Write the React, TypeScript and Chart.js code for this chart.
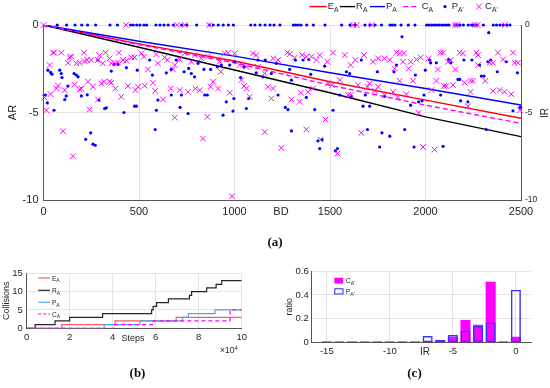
import React, { useEffect, useRef } from 'react';
import { Chart, registerables } from 'chart.js';

Chart.register(...registerables);

// ---------- (a) data ----------
const BD_LINE = [0, 500, 1000, 1500, 2000, 2500];
const E_A = [0, -1.08, -2.06, -3.24, -4.29, -5.33];
const R_A = [0, -1.27, -2.57, -3.87, -5.25, -6.38];
const P_A = [0, -0.93, -1.78, -2.73, -3.63, -4.57];
const C_A = [0, -1.12, -2.16, -3.44, -4.58, -5.62];

const P_A_PRIME: [number, number][] = [
  [72, 0], [121, 0], [165, 0], [200, 0], [231, 0], [273, 0], [348, 0], [387, 0], [456, 0], [470, 0], [488, 0], [505, 0],
  [526, 0], [540, 0], [589, 0], [610, 0], [631, 0], [653, 0], [680, 0], [723, 0], [750, 0], [802, 0], [868, 0], [889, 0],
  [915, 0], [941, 0], [968, 0], [994, 0], [1085, 0], [1107, 0], [1134, 0], [1160, 0], [1186, 0], [1207, 0], [1238, 0],
  [1308, 0], [1320, 0], [1334, 0], [1348, 0], [1378, 0], [1413, 0], [1474, 0], [1561, 0], [1605, 0], [1631, 0], [1683, 0],
  [1709, 0], [1736, 0], [1770, 0], [1814, 0], [1826, 0], [1840, 0], [1872, 0], [1910, 0], [1945, 0], [2006, 0], [2018, 0],
  [2032, 0], [2046, 0], [2058, 0], [2071, 0], [2085, 0], [2099, 0], [2111, 0], [2123, 0], [2154, 0], [2168, 0], [2180, 0],
  [2198, 0], [2224, 0], [2242, 0], [2256, 0], [2268, 0], [2303, 0], [2355, 0], [2372, 0], [2390, 0], [2407, 0], [2425, 0], [2442, 0],
  [285, -2.0], [369, -2.25], [390, -2.25], [434, -2.44], [491, -2.58], [556, -2.0], [23, -2.58], [37, -2.71], [44, -2.81],
  [85, -2.58], [93, -2.77], [160, -2.77], [172, -2.86], [181, -2.96], [97, -3.0], [355, -2.63], [570, -2.86], [128, -3.49],
  [198, -4.05], [229, -3.99], [119, -4.05], [111, -4.26], [10, -4.0], [20, -4.45], [55, -4.87], [290, -4.29], [329, -4.73],
  [320, -4.77], [421, -5.0], [477, -4.64], [486, -4.64], [591, -4.87], [599, -4.29], [585, -5.97], [247, -6.16], [221, -6.53],
  [259, -6.81], [271, -6.87],
  [643, -2.73], [669, -2.54], [695, -2.0], [736, -2.67], [760, -2.48], [774, -2.77], [791, -2.96], [809, -2.19], [840, -2.54],
  [875, -2.54], [910, -2.39], [931, -2.29], [975, -2.29], [1001, -2.1], [1050, -2.39], [1123, -2.0], [1161, -2.0], [1219, -2.19],
  [1032, -3.0], [1193, -2.77], [1114, -2.73], [1149, -2.96], [669, -4.0], [722, -4.0], [844, -4.0], [858, -4.0], [957, -4.39],
  [997, -4.2], [1074, -4.2], [1062, -4.77], [992, -4.92], [940, -5.15], [757, -5.06], [715, -4.71], [1228, -4.0],
  [1319, -2.0], [1359, -2.0], [1389, -1.97], [1472, -2.35], [1586, -2.67], [1603, -2.77], [1664, -2.0], [1748, -2.67],
  [1835, -2.67], [1848, -2.29], [1877, -0.67], [1289, -2.54], [1399, -2.82], [1298, -3.15], [1376, -4.14], [1551, -4.0],
  [1612, -4.07], [1685, -4.0], [1786, -4.07], [1266, -4.71], [1280, -4.83], [1420, -4.83], [1516, -4.87], [1673, -4.64],
  [1708, -4.64], [1298, -6.05], [1696, -5.97], [1772, -6.16], [1813, -6.35], [1760, -6.97], [1437, -6.62], [1458, -6.55],
  [1446, -7.06], [1528, -7.19], [1539, -7.06],
  [2331, -0.44], [2022, -2.0], [2027, -2.16], [2057, -2.16], [2121, -1.97], [2132, -2.16], [2201, -2.0], [2243, -2.0],
  [2283, -2.29], [2327, -2.1], [2341, -2.0], [2376, -2.67], [2423, -2.1], [2481, -2.73], [1999, -2.58], [1947, -2.86],
  [2170, -3.11], [2179, -3.11], [2292, -2.92], [2306, -2.92], [1922, -4.58], [1964, -4.39], [1982, -4.33], [1992, -4.0],
  [2079, -4.0], [2184, -4.33], [2222, -4.39], [2458, -4.9], [2495, -4.71], [1891, -5.97], [2318, -5.97], [1940, -6.97], [2092, -6.93],
];

const C_A_PRIME: [number, number][] = [
  [0, 0], [432, 0], [700, 0], [740, 0], [868, 0], [1622, 0], [1640, 0], [1718, 0], [2154, 0], [2168, 0], [2259, 0], [2273, 0], [2416, 0],
  [50, -1.58], [55, -1.58], [93, -1.58], [137, -1.85], [146, -1.81], [212, -1.58], [294, -1.74], [325, -1.58], [346, -1.91],
  [395, -1.58], [512, -1.62], [526, -1.81], [477, -1.85], [460, -1.85], [416, -2.0], [434, -2.04], [390, -2.14], [376, -2.19],
  [355, -2.19], [311, -2.19], [285, -2.0], [250, -2.0], [229, -2.0], [215, -2.06], [189, -2.16], [172, -2.19], [128, -2.16],
  [32, -2.29], [547, -2.54], [599, -2.19], [590, -1.68], [5, -4.14], [37, -3.95], [67, -3.63], [76, -3.47], [111, -3.72],
  [163, -3.4], [189, -3.68], [198, -3.63], [233, -3.24], [259, -3.53], [303, -3.34], [317, -3.24], [346, -3.24], [355, -3.3],
  [376, -3.63], [442, -3.49], [481, -3.72], [495, -3.53], [530, -3.47], [573, -3.3], [585, -3.76], [285, -4.26], [407, -4.1],
  [242, -4.83], [15, -4.87], [102, -6.07], [154, -7.5],
  [634, -1.85], [648, -2.0], [678, -2.54], [687, -2.29], [713, -1.97], [739, -1.62], [774, -2.1], [791, -1.72], [826, -1.91],
  [861, -1.81], [922, -2.1], [928, -2.67], [949, -1.62], [966, -1.58], [1001, -1.62], [1027, -2.29], [1062, -2.39], [1097, -1.62],
  [1114, -1.72], [1123, -2.39], [1158, -2.77], [1202, -1.91], [1228, -2.0], [666, -3.63], [713, -3.72], [757, -3.82], [795, -3.63],
  [818, -3.72], [875, -3.53], [888, -3.24], [914, -3.63], [975, -3.87], [1036, -3.15], [1050, -3.49], [1062, -3.63], [1079, -4.1],
  [1175, -3.53], [1202, -3.63], [1193, -4.2], [626, -4.26], [687, -5.29], [858, -5.25], [835, -6.49], [1158, -6.11], [1245, -7.02],
  [987, -9.79],
  [1277, -1.58], [1289, -1.66], [1315, -1.87], [1354, -1.72], [1376, -1.81], [1403, -1.81], [1429, -2.0], [1446, -1.72],
  [1486, -2.1], [1516, -1.58], [1577, -1.72], [1608, -2.29], [1633, -2.0], [1678, -1.72], [1725, -2.1], [1752, -1.91],
  [1786, -1.91], [1813, -2.0], [1839, -2.48], [1848, -1.58], [1865, -1.62], [1298, -4.26], [1341, -4.39], [1347, -3.87],
  [1385, -3.82], [1411, -3.63], [1490, -3.34], [1511, -3.44], [1551, -3.15], [1595, -4.0], [1608, -4.0], [1647, -3.44],
  [1696, -3.53], [1708, -3.34], [1734, -3.76], [1752, -3.53], [1786, -4.0], [1830, -3.82], [1856, -4.14], [1865, -3.19],
  [1476, -5.4], [1376, -5.97], [1451, -6.55], [1539, -7.35], [1664, -6.16],
  [1887, -1.62], [1882, -2.1], [1922, -2.1], [1952, -1.97], [1975, -1.85], [1912, -2.48], [2017, -1.91], [2065, -2.54],
  [2079, -1.58], [2092, -1.58], [2118, -2.1], [2132, -2.0], [2156, -2.54], [2179, -1.58], [2196, -1.62], [2266, -1.58],
  [2275, -1.72], [2275, -2.29], [2336, -2.16], [2353, -2.16], [2379, -1.58], [2406, -1.97], [2458, -1.58], [2467, -2.16],
  [2484, -2.16], [1934, -3.19], [2057, -3.19], [2097, -3.49], [2109, -3.49], [2144, -3.44], [2205, -3.3], [2236, -3.19],
  [2249, -3.19], [2313, -3.19], [2031, -3.72], [2236, -3.82], [2353, -3.78], [2388, -3.72], [2414, -3.82], [2449, -3.95],
  [1900, -3.95], [2222, -4.64], [1964, -5.02], [2495, -4.87], [1987, -6.97], [2048, -7.12],
];

// ---------- (b) data: steps (x10^4) where the collision count changes ----------
const E_A_STEPS: [number, number][] = [[0, 0], [1.63, 1], [4.11, 2], [6.95, 3], [10, 3]];
const R_A_STEPS: [number, number][] = [[0, 0], [0.39, 1], [1.32, 2], [2.0, 3], [3.53, 4], [5.81, 5], [5.88, 6], [6.04, 7],
  [6.59, 8], [7.57, 9], [7.67, 10], [8.37, 11], [8.81, 12], [9.07, 13], [10, 13]];
const P_A_STEPS: [number, number][] = [[0, 0], [3.6, 1], [5.27, 2], [7.26, 3], [7.52, 4], [8.76, 5], [10, 5]];
const C_A_STEPS: [number, number][] = [[0, 0], [4.06, 1], [5.89, 2], [9.46, 5], [10, 5]];

// ---------- (c) data ----------
const IR_BINS = [-15, -14, -13, -12, -11, -10, -9, -8, -7, -6, -5, -4, -3, -2, -1, 0];
const C_RATIO = [0, 0, 0, 0, 0, 0, 0, 0.003, 0.015, 0.022, 0.05, 0.19, 0.15, 0.51, 0, 0.05];
const P_RATIO = [0, 0, 0, 0, 0, 0, 0, 0.002, 0.056, 0.025, 0.064, 0.1, 0.142, 0.17, 0, 0.444];
const IR_TICKS = [-15, -10, -5, 0];

const SANS = '"Liberation Sans", Arial, Helvetica, sans-serif';
const SERIF = '"Liberation Serif", "DejaVu Serif", serif';
const GRID = '#e4e4e4';
const AXIS = '#555';
const TXT = '#262626';

const toPts = (arr: [number, number][]) => arr.map(([x, y]) => ({ x, y }));

export default function App() {
  const aRef = useRef<HTMLCanvasElement>(null);
  const bRef = useRef<HTMLCanvasElement>(null);
  const cRef = useRef<HTMLCanvasElement>(null);

  useEffect(() => {
    const lineDs = (label: string, ys: number[], color: string, order: number, dash?: number[]) => ({
      type: 'scatter', label, data: BD_LINE.map((x, i) => ({ x, y: ys[i] })), showLine: true,
      borderColor: color, backgroundColor: color, borderWidth: 1.4, pointRadius: 0, order,
      borderDash: dash || [],
    });
    const chartA = new Chart(aRef.current!, {
      type: 'scatter',
      data: {
        datasets: [
          lineDs('E_A', E_A, '#ff0000', 6),
          lineDs('R_A', R_A, '#000000', 5),
          lineDs('P_A', P_A, '#0000ff', 4),
          lineDs('C_A', C_A, '#ff00ff', 3, [5, 3]),
          { label: "P_A'", data: toPts(P_A_PRIME), pointStyle: 'circle', pointRadius: 1.6, backgroundColor: '#0000ff',
            borderWidth: 0, order: 2, clip: false },
          { label: "C_A'", data: toPts(C_A_PRIME), pointStyle: 'crossRot', pointRadius: 4, borderColor: '#ff00ff',
            backgroundColor: '#ff00ff', borderWidth: 1, order: 1, clip: false },
        ] as any,
      },
      options: {
        responsive: false, animation: false,
        layout: { padding: { top: 25, left: 0, right: 0, bottom: 0 } },
        plugins: { legend: { display: false }, tooltip: { enabled: false } },
        scales: {
          x: {
            type: 'linear', min: 0, max: 2500,
            ticks: { stepSize: 500, padding: 5, color: TXT, maxRotation: 0, font: { family: SANS, size: 11 },
              callback: (v: any) => String(v) },
            grid: { color: GRID, drawTicks: false }, border: { color: AXIS },
            afterFit: (s: any) => { s.height = 25; },
          },
          y: {
            position: 'left', min: -10, max: 0,
            ticks: { stepSize: 5, padding: 5, color: TXT, font: { family: SANS, size: 11 }, callback: (v: any) => String(v) },
            grid: { color: GRID, drawTicks: false }, border: { color: AXIS },
            title: { display: true, text: 'AR', color: TXT, font: { family: SANS, size: 11 }, padding: { top: 6.4, bottom: 0 } },
            afterFit: (s: any) => { s.width = 43.5; },
          },
          y2: {
            position: 'right', min: -10, max: 0,
            ticks: { stepSize: 5, padding: 4, color: TXT, font: { family: SANS, size: 8.5 }, callback: (v: any) => String(v) },
            grid: { display: false, drawTicks: false }, border: { color: AXIS },
            afterFit: (s: any) => { s.width = 29; },
          },
        },
      } as any,
    });

    const stepDs = (label: string, pts: [number, number][], color: string, order: number, dash?: number[]) => ({
      label, data: toPts(pts), stepped: true, borderColor: color, backgroundColor: color, borderWidth: 1.2,
      pointRadius: 0, order, borderDash: dash || [],
    });
    const chartB = new Chart(bRef.current!, {
      type: 'line',
      data: {
        datasets: [
          stepDs('E_A', E_A_STEPS, '#ff5a5a', 4),
          stepDs('R_A', R_A_STEPS, '#262626', 3),
          stepDs('P_A', P_A_STEPS, '#4ea6e6', 2),
          stepDs('C_A', C_A_STEPS, '#ff00ff', 1, [4, 3]),
        ] as any,
      },
      options: {
        responsive: false, animation: false,
        layout: { padding: { top: 15.3, right: 18.3, left: 0, bottom: 0 } },
        plugins: { legend: { display: false }, tooltip: { enabled: false } },
        scales: {
          x: {
            type: 'linear', min: 0, max: 10,
            ticks: { stepSize: 2, padding: 3, color: TXT, maxRotation: 0, font: { family: SANS, size: 9.5 } },
            grid: { color: GRID, drawTicks: false }, border: { color: AXIS },
            afterFit: (s: any) => { s.height = 24.7; },
          },
          y: {
            min: 0, max: 15,
            ticks: { stepSize: 5, padding: 4, color: TXT, font: { family: SANS, size: 9.5 } },
            grid: { color: GRID, drawTicks: false }, border: { color: AXIS },
            title: { display: true, text: 'Collisions', color: TXT, font: { family: SANS, size: 9 }, padding: { top: 1.6, bottom: 0 } },
            afterFit: (s: any) => { s.width = 26.7; },
          },
        },
      } as any,
    });

    const chartC = new Chart(cRef.current!, {
      type: 'bar',
      data: {
        datasets: [
          { label: "C_A'", data: IR_BINS.map((x, i) => ({ x, y: C_RATIO[i] })), backgroundColor: '#ff00ff',
            borderWidth: 0, order: 2, grouped: false, categoryPercentage: 1, barPercentage: 0.8 },
          { label: "P_A'", data: IR_BINS.map((x, i) => ({ x, y: P_RATIO[i] })), backgroundColor: 'rgba(0,0,0,0)',
            borderColor: '#3535ff', borderWidth: 1.5, borderSkipped: false, minBarLength: 1.5, order: 1,
            grouped: false, categoryPercentage: 1, barPercentage: 0.8, clip: 2 },
        ] as any,
      },
      options: {
        responsive: false, animation: false,
        layout: { padding: { top: 13, right: 19, left: 0, bottom: 0 } },
        plugins: { legend: { display: false }, tooltip: { enabled: false } },
        scales: {
          x: {
            type: 'linear', min: -16.2, max: 1.2, offset: false,
            afterBuildTicks: (s: any) => { s.ticks = IR_TICKS.map((v) => ({ value: v })); },
            ticks: { padding: 3, color: TXT, maxRotation: 0, font: { family: SANS, size: 9.5 }, callback: (v: any) => String(v) },
            grid: { color: GRID, drawTicks: false, offset: false }, border: { color: AXIS },
            afterFit: (s: any) => { s.height = 17.3; },
          },
          y: {
            min: 0, max: 0.6,
            ticks: { stepSize: 0.2, padding: 3, color: TXT, font: { family: SANS, size: 9.5 },
              callback: (v: any) => (Math.abs(v) < 1e-9 ? '0' : Number(v).toFixed(1)) },
            grid: { color: GRID, drawTicks: false }, border: { color: AXIS },
            title: { display: true, text: 'ratio', color: TXT, font: { family: SANS, size: 9 }, padding: { top: 9.6, bottom: 0 } },
            afterFit: (s: any) => { s.width = 36.7; },
          },
        },
      } as any,
    });

    return () => { chartA.destroy(); chartB.destroy(); chartC.destroy(); };
  }, []);

  const sub = (main: string, s: string, x: number, y: number, size: number, subSize: number, dy: number) => (
    <text x={x} y={y} fontSize={size} fill={TXT}>
      {main}
      <tspan dy={dy} fontSize={subSize}>{s}</tspan>
    </text>
  );

  return (
    <div style={{ position: 'fixed', left: 0, top: 0, width: 550, height: 388, background: '#fff', overflow: 'hidden' }}>
      <canvas ref={aRef} width={550} height={225} style={{ position: 'absolute', left: 0, top: 0 }} />
      <canvas ref={bRef} width={260} height={95} style={{ position: 'absolute', left: 0, top: 258 }} />
      <canvas ref={cRef} width={275} height={102} style={{ position: 'absolute', left: 275, top: 258 }} />
      <svg width={550} height={388} style={{ position: 'absolute', left: 0, top: 0, pointerEvents: 'none' }} fontFamily={SANS}>
        {/* (a) legend */}
        <line x1={309.3} x2={326.7} y1={6.6} y2={6.6} stroke="#ff0000" strokeWidth={1.4} />
        {sub('E', 'A', 327.7, 9.4, 9.5, 6.8, 2.6)}
        <line x1={340} x2={355} y1={6.6} y2={6.6} stroke="#000" strokeWidth={1.4} />
        {sub('R', 'A', 356, 9.4, 9.5, 6.8, 2.6)}
        <line x1={370} x2={385} y1={6.6} y2={6.6} stroke="#0000ff" strokeWidth={1.4} />
        {sub('P', 'A', 386, 9.4, 9.5, 6.8, 2.6)}
        <line x1={403.3} x2={419} y1={6.6} y2={6.6} stroke="#ff00ff" strokeWidth={1.4} strokeDasharray="5,3" />
        {sub('C', 'A', 421.7, 9.4, 9.5, 6.8, 2.6)}
        <circle cx={445} cy={6.6} r={1.6} fill="#0000ff" />
        {sub('P', "A'", 451.7, 9.4, 9.5, 6.8, 2.6)}
        <line x1={476.2} x2={481.8} y1={3.8} y2={9.4} stroke="#ff00ff" strokeWidth={1} />
        <line x1={476.2} x2={481.8} y1={9.4} y2={3.8} stroke="#ff00ff" strokeWidth={1} />
        {sub('C', "A'", 485, 9.4, 9.5, 6.8, 2.6)}
        {/* (a) axis extras */}
        <text x={281} y={211} fontSize={11} fill={TXT} textAnchor="middle" dominantBaseline="central">BD</text>
        <text x={544} y={113} fontSize={10} fill={TXT} textAnchor="middle" dominantBaseline="central"
          transform="rotate(-90 544 113)">IR</text>
        <text x={275} y={245.5} fontSize={13} fontFamily={SERIF} fontWeight="bold" fill="#111" textAnchor="middle">(a)</text>

        {/* (b) legend */}
        <line x1={38.3} x2={50} y1={278} y2={278} stroke="#ff5a5a" strokeWidth={1.2} />
        {sub('E', 'A', 52, 280.6, 6.5, 5, 1.8)}
        <line x1={38.3} x2={50} y1={290.3} y2={290.3} stroke="#262626" strokeWidth={1.2} />
        {sub('R', 'A', 52, 292.9, 6.5, 5, 1.8)}
        <line x1={38.3} x2={50} y1={302.3} y2={302.3} stroke="#4ea6e6" strokeWidth={1.2} />
        {sub('P', 'A', 52, 304.9, 6.5, 5, 1.8)}
        <line x1={38.3} x2={50} y1={314} y2={314} stroke="#ff00ff" strokeWidth={1.2} strokeDasharray="3,2" />
        {sub('C', 'A', 52, 316.6, 6.5, 5, 1.8)}
        <text x={133} y={337.5} fontSize={9} fill={TXT} textAnchor="middle" dominantBaseline="central">Steps</text>
        <text x={220} y={353} fontSize={8.5} fill={TXT}>×10<tspan dy={-3.5} fontSize={6}>4</tspan></text>
        <text x={137.5} y={377} fontSize={13} fontFamily={SERIF} fontWeight="bold" fill="#111" textAnchor="middle">(b)</text>

        {/* (c) legend */}
        <rect x={334.3} y={277.7} width={9} height={5.8} fill="#ff00ff" />
        {sub('C', "A'", 345.7, 283, 7, 5, 1.8)}
        <rect x={334.8} y={288.8} width={8.2} height={5.2} fill="none" stroke="#3535ff" strokeWidth={1.1} />
        {sub('P', "A'", 345.7, 294, 7, 5, 1.8)}
        <text x={425} y={351} fontSize={10} fill={TXT} textAnchor="middle" dominantBaseline="central">IR</text>
        <text x={414.5} y={377} fontSize={13} fontFamily={SERIF} fontWeight="bold" fill="#111" textAnchor="middle">(c)</text>
      </svg>
    </div>
  );
}
